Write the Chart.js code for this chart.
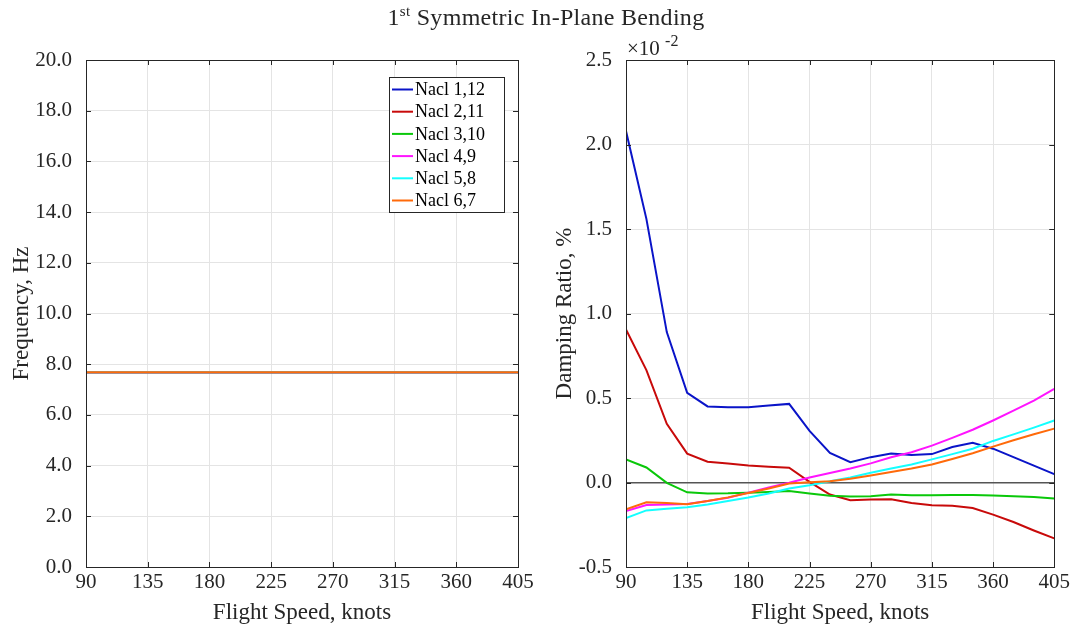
<!DOCTYPE html>
<html>
<head>
<meta charset="utf-8">
<script src="https://cdn.jsdelivr.net/npm/chart.js@4/dist/chart.umd.min.js"></script>
<style>
  body { margin: 0; background: #fff; font-family: "Liberation Serif", serif; color: #262626; }
  #wrap { position: relative; width: 1073px; height: 630px; }
  .box { position: absolute; top: 0; height: 630px; }
  #title { position: absolute; top: 3px; left: 0; width: 1092px; text-align: center; font-size: 24px; letter-spacing: 0.3px; }
  #title sup { font-size: 15px; }
  #expo { position: absolute; left: 627px; top: 33px; font-size: 21px; }
  #expo sup { font-size: 16px; position: relative; top: -1px; }
</style>
</head>
<body>
<div id="wrap">
  <div class="box" style="left:0; width:540px;"><canvas id="freqChart"></canvas></div>
  <div class="box" style="left:540px; width:533px;"><canvas id="dampChart"></canvas></div>
  <div id="title">1<sup>st</sup> Symmetric In-Plane Bending</div>
  <div id="expo">&times;10 <sup>-2</sup></div>
</div>
<script>
// vitesses de vol (knots)
const speeds = [90, 105, 120, 135, 150, 165, 180, 195, 210, 225, 240, 255, 270, 285, 300, 315, 330, 345, 360, 375, 390, 405];
const xTicks = [90, 135, 180, 225, 270, 315, 360, 405];

const labels = ['Nacl 1,12', 'Nacl 2,11', 'Nacl 3,10', 'Nacl 4,9', 'Nacl 5,8', 'Nacl 6,7'];
const colors = ['#0a14c8', '#c80a0a', '#0ac80a', '#ff14ff', '#14ffff', '#ff6a0a'];

// frequences (Hz) - toutes les courbes sont superposees
const freq1 = [7.68, 7.68, 7.68, 7.68, 7.68, 7.68, 7.68, 7.68, 7.68, 7.68, 7.68, 7.68, 7.68, 7.68, 7.68, 7.68, 7.68, 7.68, 7.68, 7.68, 7.68, 7.68];
const freq2 = [7.68, 7.68, 7.68, 7.68, 7.68, 7.68, 7.68, 7.68, 7.68, 7.68, 7.68, 7.68, 7.68, 7.68, 7.68, 7.68, 7.68, 7.68, 7.68, 7.68, 7.68, 7.68];
const freq3 = [7.68, 7.68, 7.68, 7.68, 7.68, 7.68, 7.68, 7.68, 7.68, 7.68, 7.68, 7.68, 7.68, 7.68, 7.68, 7.68, 7.68, 7.68, 7.68, 7.68, 7.68, 7.68];
const freq4 = [7.68, 7.68, 7.68, 7.68, 7.68, 7.68, 7.68, 7.68, 7.68, 7.68, 7.68, 7.68, 7.68, 7.68, 7.68, 7.68, 7.68, 7.68, 7.68, 7.68, 7.68, 7.68];
const freq5 = [7.68, 7.68, 7.68, 7.68, 7.68, 7.68, 7.68, 7.68, 7.68, 7.68, 7.68, 7.68, 7.68, 7.68, 7.68, 7.68, 7.68, 7.68, 7.68, 7.68, 7.68, 7.68];
const freq6 = [7.68, 7.68, 7.68, 7.68, 7.68, 7.68, 7.68, 7.68, 7.68, 7.68, 7.68, 7.68, 7.68, 7.68, 7.68, 7.68, 7.68, 7.68, 7.68, 7.68, 7.68, 7.68];

// amortissement (x 10^-2 %)
const damp1 = [2.08, 1.56, 0.89, 0.53, 0.45, 0.446, 0.445, 0.455, 0.465, 0.305, 0.175, 0.12, 0.15, 0.172, 0.163, 0.168, 0.21, 0.235, 0.20, 0.15, 0.10, 0.05];
const damp2 = [0.905, 0.665, 0.347, 0.171, 0.123, 0.113, 0.101, 0.093, 0.087, 0.004, -0.071, -0.105, -0.101, -0.099, -0.121, -0.135, -0.137, -0.151, -0.19, -0.234, -0.284, -0.331];
const damp3 = [0.137, 0.089, -0.002, -0.058, -0.065, -0.064, -0.06, -0.056, -0.05, -0.065, -0.079, -0.083, -0.081, -0.071, -0.076, -0.076, -0.074, -0.074, -0.077, -0.081, -0.086, -0.095];
const damp4 = [-0.169, -0.133, -0.13, -0.127, -0.11, -0.09, -0.06, -0.03, -0.002, 0.03, 0.056, 0.083, 0.113, 0.149, 0.179, 0.218, 0.264, 0.312, 0.367, 0.425, 0.485, 0.554];
const damp5 = [-0.21, -0.165, -0.155, -0.147, -0.13, -0.11, -0.089, -0.065, -0.036, -0.016, 0.008, 0.03, 0.058, 0.083, 0.107, 0.137, 0.168, 0.2, 0.246, 0.285, 0.325, 0.367];
const damp6 = [-0.159, -0.117, -0.122, -0.129, -0.11, -0.088, -0.062, -0.035, -0.006, 0.002, 0.008, 0.022, 0.042, 0.062, 0.083, 0.107, 0.139, 0.173, 0.212, 0.25, 0.285, 0.319];

const freqSeries = [freq1, freq2, freq3, freq4, freq5, freq6];
const dampSeries = [damp1, damp2, damp3, damp4, damp5, damp6];

const serif = "'Liberation Serif', 'Times New Roman', serif";
const ink = '#262626';

// construit les datasets a partir des tableaux
function makeSets(series) {
    return series.map((vals, i) => ({
        label: labels[i],
        data: speeds.map((s, j) => ({x: s, y: vals[j]})),
        borderColor: colors[i],
        backgroundColor: colors[i],
        borderWidth: 2,
        pointRadius: 0,
        tension: 0,
        order: series.length - i
    }));
}

// cadre + petites graduations vers l'interieur (style matlab)
const boxTicks = {
    id: 'boxTicks',
    afterDraw(chart) {
        const {ctx, chartArea: a, scales} = chart;
        ctx.save();
        ctx.strokeStyle = ink;
        ctx.lineWidth = 1;
        const len = 5;
        ctx.beginPath();
        scales.x.ticks.forEach(t => {
            const px = Math.round(scales.x.getPixelForValue(t.value)) + 0.5;
            ctx.moveTo(px, a.bottom); ctx.lineTo(px, a.bottom - len);
            ctx.moveTo(px, a.top); ctx.lineTo(px, a.top + len);
        });
        scales.y.ticks.forEach(t => {
            const py = Math.round(scales.y.getPixelForValue(t.value)) + 0.5;
            ctx.moveTo(a.left, py); ctx.lineTo(a.left + len, py);
            ctx.moveTo(a.right, py); ctx.lineTo(a.right - len, py);
        });
        ctx.stroke();
        ctx.strokeRect(Math.round(a.left) + 0.5, Math.round(a.top) + 0.5, Math.round(a.right - a.left), Math.round(a.bottom - a.top));
        ctx.restore();
    }
};

// legende dessinee dans la zone du graphe
const innerLegend = {
    id: 'innerLegend',
    afterDraw(chart, args, opts) {
        if (!opts.show) return;
        const {ctx} = chart;
        const x0 = 389, y0 = 77, w = 115, h = 135, row = 22.2;
        ctx.save();
        ctx.fillStyle = '#fff';
        ctx.fillRect(x0, y0, w, h);
        ctx.strokeStyle = ink;
        ctx.lineWidth = 1;
        ctx.strokeRect(x0 + 0.5, y0 + 0.5, w, h);
        ctx.font = '18px ' + serif;
        ctx.textBaseline = 'middle';
        chart.data.datasets.forEach((ds, i) => {
            const y = y0 + 12.5 + i * row;
            ctx.strokeStyle = ds.borderColor;
            ctx.lineWidth = 2;
            ctx.beginPath();
            ctx.moveTo(x0 + 3, y); ctx.lineTo(x0 + 24, y);
            ctx.stroke();
            ctx.fillStyle = '#000';
            ctx.fillText(ds.label, x0 + 26, y + 1);
        });
        ctx.restore();
    }
};

function makeOptions(yMin, yMax, yStep, yTitle, leftPad, rightPad, showLegend, zeroLine) {
    return {
        responsive: true,
        maintainAspectRatio: false,
        animation: false,
        layout: {padding: {top: 60, right: rightPad, left: leftPad, bottom: 0}},
        plugins: {legend: {display: false}, tooltip: {enabled: false}, innerLegend: {show: showLegend}},
        scales: {
            x: {
                type: 'linear', min: 90, max: 405,
                afterBuildTicks: s => { s.ticks = xTicks.map(v => ({value: v})); },
                afterFit: s => { s.height = 63; },
                ticks: {color: ink, font: {family: serif, size: 21}, padding: 3, maxRotation: 0},
                grid: {color: '#e4e4e4', drawTicks: false},
                border: {display: false},
                title: {display: true, text: 'Flight Speed, knots', color: ink, font: {family: serif, size: 23}, padding: {top: 2, bottom: 3}}
            },
            y: {
                min: yMin, max: yMax,
                afterFit: s => { s.width = 86 - leftPad; },
                ticks: {stepSize: yStep, color: ink, font: {family: serif, size: 21}, padding: 14,
                        callback: v => v.toFixed(1)},
                grid: {
                    color: c => (zeroLine && c.tick && c.tick.value === 0) ? '#555' : '#e4e4e4',
                    lineWidth: c => (zeroLine && c.tick && c.tick.value === 0) ? 1.5 : 1,
                    drawTicks: false
                },
                border: {display: false},
                title: {display: true, text: yTitle, color: ink, font: {family: serif, size: 23}, padding: {top: 0, bottom: 0}}
            }
        }
    };
}

new Chart(document.getElementById('freqChart'), {
    type: 'line',
    data: {datasets: makeSets(freqSeries)},
    options: makeOptions(0, 20, 2, 'Frequency, Hz', 8, 22, true, false),
    plugins: [boxTicks, innerLegend]
});

new Chart(document.getElementById('dampChart'), {
    type: 'line',
    data: {datasets: makeSets(dampSeries)},
    options: makeOptions(-0.5, 2.5, 0.5, 'Damping Ratio, %', 11, 18, false, true),
    plugins: [boxTicks, innerLegend]
});
</script>
</body>
</html>
